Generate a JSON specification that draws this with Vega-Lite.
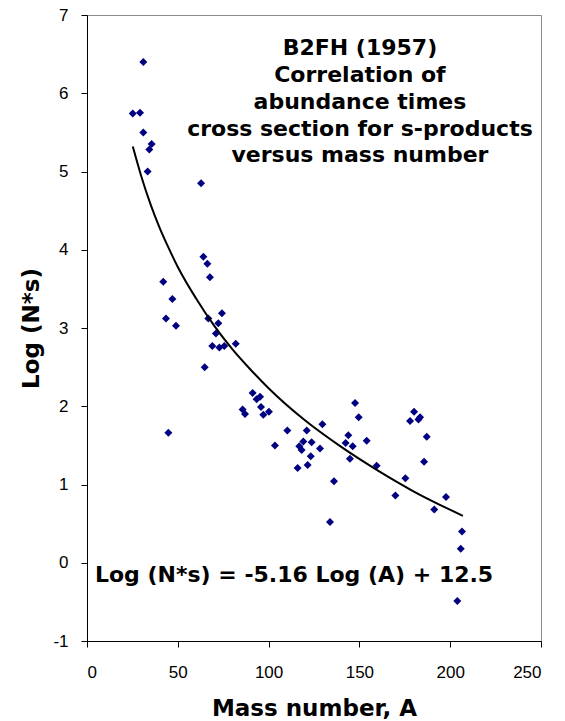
{
  "$schema": "https://vega.github.io/schema/vega-lite/v6.json",
  "width": 454,
  "height": 626,
  "autosize": {"type": "none"},
  "padding": {"left": 87, "top": 15, "right": 24, "bottom": 80},
  "background": "white",
  "config": {
    "view": {"stroke": "#8c8c8c", "strokeWidth": 1},
    "axis": {
      "grid": false,
      "domainColor": "#000000",
      "domainWidth": 1,
      "tickColor": "#000000",
      "tickSize": 6,
      "labelFont": "Liberation Sans",
      "labelFontSize": 17,
      "labelColor": "#000000",
      "titleFont": "DejaVu Sans",
      "titleFontSize": 23,
      "titleFontWeight": "bold",
      "titleColor": "#000000"
    }
  },
  "datasets": {
    "points": [
      {"A": 31.0, "logNs": 6.40}, {"A": 25.2, "logNs": 5.74}, {"A": 29.2, "logNs": 5.75},
      {"A": 31.0, "logNs": 5.50}, {"A": 35.6, "logNs": 5.35}, {"A": 34.3, "logNs": 5.28},
      {"A": 33.4, "logNs": 5.00}, {"A": 62.8, "logNs": 4.85}, {"A": 64.1, "logNs": 3.91},
      {"A": 66.3, "logNs": 3.82}, {"A": 67.7, "logNs": 3.65}, {"A": 42.0, "logNs": 3.59},
      {"A": 47.0, "logNs": 3.37}, {"A": 74.3, "logNs": 3.19}, {"A": 43.5, "logNs": 3.12},
      {"A": 66.8, "logNs": 3.12}, {"A": 49.0, "logNs": 3.03}, {"A": 72.3, "logNs": 3.06},
      {"A": 71.0, "logNs": 2.93}, {"A": 81.9, "logNs": 2.80}, {"A": 69.0, "logNs": 2.77},
      {"A": 72.9, "logNs": 2.75}, {"A": 75.6, "logNs": 2.77}, {"A": 64.8, "logNs": 2.50},
      {"A": 91.2, "logNs": 2.17}, {"A": 93.4, "logNs": 2.09}, {"A": 95.3, "logNs": 2.12},
      {"A": 95.8, "logNs": 1.99}, {"A": 97.1, "logNs": 1.89}, {"A": 100.2, "logNs": 1.93},
      {"A": 85.7, "logNs": 1.96}, {"A": 87.0, "logNs": 1.90}, {"A": 44.8, "logNs": 1.66},
      {"A": 110.3, "logNs": 1.69}, {"A": 103.5, "logNs": 1.50}, {"A": 121.0, "logNs": 1.69},
      {"A": 129.6, "logNs": 1.77}, {"A": 119.1, "logNs": 1.55}, {"A": 123.7, "logNs": 1.54},
      {"A": 116.9, "logNs": 1.49}, {"A": 118.2, "logNs": 1.44}, {"A": 128.3, "logNs": 1.46},
      {"A": 123.2, "logNs": 1.36}, {"A": 116.0, "logNs": 1.21}, {"A": 121.5, "logNs": 1.25},
      {"A": 136.0, "logNs": 1.04}, {"A": 133.8, "logNs": 0.52}, {"A": 147.6, "logNs": 2.04},
      {"A": 149.6, "logNs": 1.86}, {"A": 143.9, "logNs": 1.63}, {"A": 142.4, "logNs": 1.53},
      {"A": 146.3, "logNs": 1.49}, {"A": 154.0, "logNs": 1.56}, {"A": 144.8, "logNs": 1.33},
      {"A": 159.5, "logNs": 1.24}, {"A": 180.1, "logNs": 1.93}, {"A": 177.9, "logNs": 1.81},
      {"A": 182.5, "logNs": 1.83}, {"A": 183.4, "logNs": 1.86}, {"A": 187.1, "logNs": 1.61},
      {"A": 185.6, "logNs": 1.29}, {"A": 175.3, "logNs": 1.08}, {"A": 169.8, "logNs": 0.86},
      {"A": 197.7, "logNs": 0.84}, {"A": 191.2, "logNs": 0.68}, {"A": 206.5, "logNs": 0.40},
      {"A": 205.8, "logNs": 0.18}, {"A": 203.9, "logNs": -0.49}
    ],
    "curve": [
      {"A": 25.2, "logNs": 5.32}, {"A": 30, "logNs": 4.93}, {"A": 35, "logNs": 4.58},
      {"A": 40, "logNs": 4.28}, {"A": 45, "logNs": 4.02}, {"A": 50, "logNs": 3.78},
      {"A": 60, "logNs": 3.38}, {"A": 70, "logNs": 3.03}, {"A": 80, "logNs": 2.73},
      {"A": 90, "logNs": 2.47}, {"A": 100, "logNs": 2.23}, {"A": 120, "logNs": 1.82},
      {"A": 140, "logNs": 1.48}, {"A": 160, "logNs": 1.18}, {"A": 180, "logNs": 0.91},
      {"A": 207, "logNs": 0.60}
    ],
    "title": [
      {"A": 150.3, "logNs": 6.49, "label": "B2FH (1957)"},
      {"A": 150.3, "logNs": 6.15, "label": "Correlation of"},
      {"A": 150.3, "logNs": 5.80, "label": "abundance times"},
      {"A": 150.3, "logNs": 5.46, "label": "cross section for s-products"},
      {"A": 150.3, "logNs": 5.12, "label": "versus mass number"}
    ],
    "equation": [
      {"A": 4.4, "logNs": -0.24, "label": "Log (N*s) = -5.16 Log (A) + 12.5"}
    ]
  },
  "layer": [
    {
      "data": {"name": "points"},
      "mark": {"type": "point", "shape": "diamond", "filled": true, "color": "#000080", "size": 64, "opacity": 1},
      "encoding": {
        "x": {
          "field": "A", "type": "quantitative",
          "scale": {"domain": [0, 250], "nice": false},
          "axis": {"values": [0, 50, 100, 150, 200, 250], "labelExpr": "'' + datum.value", "labelPadding": 17, "title": "Mass number, A", "titlePadding": 17}
        },
        "y": {
          "field": "logNs", "type": "quantitative",
          "scale": {"domain": [-1, 7], "nice": false, "zero": false},
          "axis": {"values": [-1, 0, 1, 2, 3, 4, 5, 6, 7], "labelExpr": "'' + datum.value", "labelPadding": 13, "title": "Log (N*s)", "titlePadding": 9}
        }
      }
    },
    {
      "data": {"name": "curve"},
      "mark": {"type": "line", "color": "#000000", "strokeWidth": 2, "interpolate": "monotone"},
      "encoding": {
        "x": {"field": "A", "type": "quantitative"},
        "y": {"field": "logNs", "type": "quantitative"}
      }
    },
    {
      "data": {"name": "title"},
      "mark": {"type": "text", "font": "DejaVu Sans", "fontWeight": "bold", "fontSize": 22, "align": "center", "baseline": "alphabetic", "color": "#000000"},
      "encoding": {
        "x": {"field": "A", "type": "quantitative"},
        "y": {"field": "logNs", "type": "quantitative"},
        "text": {"field": "label", "type": "nominal"}
      }
    },
    {
      "data": {"name": "equation"},
      "mark": {"type": "text", "font": "DejaVu Sans", "fontWeight": "bold", "fontSize": 22, "align": "left", "baseline": "alphabetic", "color": "#000000"},
      "encoding": {
        "x": {"field": "A", "type": "quantitative"},
        "y": {"field": "logNs", "type": "quantitative"},
        "text": {"field": "label", "type": "nominal"}
      }
    }
  ]
}
